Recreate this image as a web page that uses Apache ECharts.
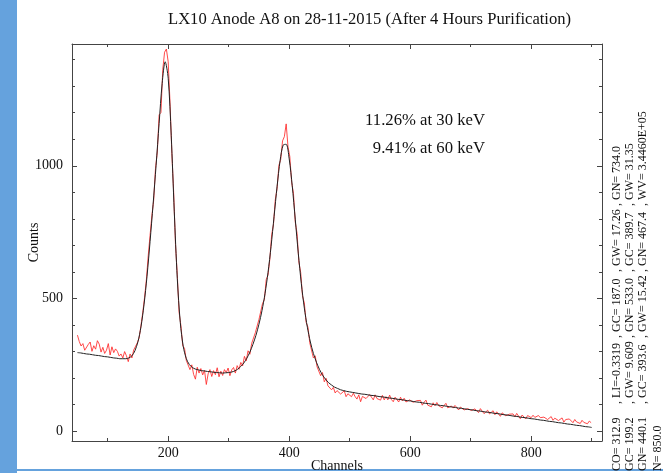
<!DOCTYPE html>
<html>
<head>
<meta charset="utf-8">
<title>LX10 Anode A8</title>
<script src="https://cdn.jsdelivr.net/npm/echarts@6/dist/echarts.min.js"></script>
<style>
  html, body { margin: 0; padding: 0; background: #fff; }
  #chart { width: 663px; height: 473px; }
</style>
</head>
<body>
<div id="chart"></div>
<script>
const FONT = '"Liberation Serif", "Times New Roman", serif';

// measured spectrum, one value every 3 channels from channel 50
const dataStart = 50;
const dataStep = 3;
const dataCounts = [
  362, 338, 321, 330, 305, 312, 327, 336, 301, 322,
  309, 341, 328, 298, 316, 293, 305, 330, 287, 318,
  296, 310, 301, 283, 291, 276, 300, 284, 262, 291,
  276, 306, 300, 333, 352, 398, 448, 505, 572, 661,
  738, 812, 869, 990, 1052, 1192, 1201, 1362, 1428, 1440,
  1392, 1240, 1048, 902, 706, 590, 448, 398, 322, 312,
  266, 271, 232, 250, 214, 196, 241, 219, 236, 212,
  229, 176, 216, 232, 206, 228, 213, 239, 205, 226,
  210, 232, 221, 238, 209, 231, 240, 219, 247, 233,
  259, 246, 282, 265, 303, 290, 331, 326, 371, 369,
  421, 428, 482, 496, 571, 589, 648, 740, 779, 872,
  915, 1002, 1024, 1094, 1110, 1158, 1072, 1035, 938, 897,
  788, 745, 637, 598, 509, 483, 410, 392, 333, 329,
  276, 284, 243, 249, 209, 221, 186, 199, 171, 168,
  156, 165, 144, 153, 157, 140, 141, 152, 130, 141,
  142, 130, 143, 130, 121, 137, 111, 131, 137, 123,
  126, 138, 128, 118, 137, 123, 128, 117, 135, 118,
  130, 118, 136, 119, 111, 128, 122, 110, 128, 114,
  124, 110, 104, 118, 123, 109, 102, 115, 108, 116,
  98, 109, 117, 98, 104, 92, 107, 96, 108, 96,
  103, 88, 97, 105, 88, 83, 95, 87, 97, 89,
  80, 91, 94, 80, 73, 85, 88, 78, 71, 84,
  79, 70, 85, 78, 66, 73, 79, 65, 67, 77,
  62, 73, 67, 56, 69, 73, 58, 51, 64, 59,
  65, 54, 67, 57, 47, 61, 55, 46, 59, 54,
  51, 60, 52, 45, 59, 51, 44, 53, 57, 44,
  47, 55, 41, 49, 55, 40, 43, 50, 34, 44,
  38, 46, 39, 32, 44, 35, 38, 29, 41, 33,
  36, 28, 38, 32
];

// fitted curve, one value every 5 channels from channel 50
const fitStart = 50;
const fitStep = 5;
const fitCounts = [
  296, 295, 293, 291, 290, 288, 286, 285, 283, 281,
  280, 278, 276, 275, 273, 273, 273, 276, 284, 303,
  337, 393, 476, 584, 714, 854, 1002, 1160, 1310, 1392,
  1330, 1115, 829, 576, 409, 318, 273, 251, 240, 234,
  231, 228, 227, 225, 224, 222, 221, 220, 219, 220,
  221, 223, 227, 234, 244, 257, 275, 298, 327, 361,
  403, 454, 518, 598, 696, 809, 923, 1020, 1078, 1081,
  1026, 925, 799, 671, 557, 464, 392, 336, 293, 260,
  233, 212, 196, 183, 174, 166, 161, 156, 153, 150,
  148, 146, 144, 142, 140, 139, 137, 135, 134, 132,
  130, 129, 127, 125, 124, 122, 120, 119, 117, 115,
  114, 112, 110, 109, 107, 105, 104, 102, 100, 99,
  97, 96, 94, 92, 91, 89, 87, 86, 84, 82,
  81, 79, 77, 76, 74, 72, 71, 69, 67, 66,
  64, 62, 61, 59, 57, 56, 54, 52, 51, 49,
  47, 46, 44, 42, 41, 39, 37, 36, 34, 32,
  31, 29, 27, 26, 24, 22, 21, 19, 17, 16,
  14
];

const xLabelValues = [200, 400, 600, 800];
const xMinorTicks = [100, 300, 500, 700, 900];
const yLabelValues = [0, 500, 1000];
const yMinorTicks = [100, 200, 300, 400, 600, 700, 800, 900, 1100, 1200, 1300, 1400];

const resolutionLines = ['11.26% at 30 keV', '9.41% at 60 keV'];
const fitParamLines = [
  ['CO= 312.9', ', LI=-0.3319', ', GC= 187.0', ', GW= 17.26', ', GN= 734.0'],
  ['GC= 199.2', ', GW= 9.609', ', GN= 533.0', ', GC= 389.7', ', GW= 31.35'],
  ['GN= 440.1', ', GC= 393.6', ', GW= 15.42', ', GN= 467.4', ', WV= 3.4460E+05'],
  ['N= 850.0']
];

const toPairs = (arr, start, step) => arr.map((v, i) => [start + i * step, v]);

const frameColor = '#444';
const xRange = { min: 41, max: 917 };
const yRange = { min: -37, max: 1459 };

// extra axes only draw frame lines and tick marks
function tickAxis(position, values, len, showLine) {
  return {
    type: 'value',
    position: position,
    ...(position === 'left' || position === 'right' ? yRange : xRange),
    axisLine: { show: showLine, onZero: false, lineStyle: { color: frameColor, width: 1 } },
    axisTick: { show: true, inside: true, length: len, customValues: values, lineStyle: { color: frameColor } },
    axisLabel: { show: false },
    splitLine: { show: false }
  };
}

const chart = echarts.init(document.getElementById('chart'), null, { renderer: 'canvas' });

const paramTexts = [];
const fieldY = [471, 404, 338, 272, 206];
const lineX = [617, 630, 643, 658];
fitParamLines.forEach((fields, li) => {
  fields.forEach((t, fi) => {
    paramTexts.push({
      type: 'text',
      x: lineX[li],
      y: fieldY[fi],
      rotation: Math.PI / 2,
      style: { text: t, font: '12px ' + FONT, fill: '#111', align: 'left', verticalAlign: 'middle' }
    });
  });
});

const option = {
  animation: false,
  title: {
    text: 'LX10 Anode A8 on 28-11-2015 (After 4 Hours Purification)',
    left: 168,
    top: 11,
    padding: 0,
    textStyle: { fontFamily: FONT, fontSize: 16.6, fontWeight: 'normal', color: '#111' }
  },
  grid: { left: 72, right: 61, top: 44, bottom: 32, outerBoundsMode: 'none', containLabel: false },
  xAxis: [
    {
      type: 'value',
      position: 'bottom',
      ...xRange,
      name: 'Channels',
      nameLocation: 'middle',
      nameGap: 18,
      nameMoveOverlap: false,
      nameTextStyle: { fontFamily: FONT, fontSize: 14, color: '#111', verticalAlign: 'top' },
      axisLine: { onZero: false, lineStyle: { color: frameColor, width: 1 } },
      axisTick: { inside: true, length: 5, customValues: xLabelValues, lineStyle: { color: frameColor } },
      axisLabel: { customValues: xLabelValues, margin: 5, fontFamily: FONT, fontSize: 14, color: '#111' },
      splitLine: { show: false }
    },
    tickAxis('bottom', xMinorTicks, 3, false),
    tickAxis('top', xLabelValues, 5, true),
    tickAxis('top', xMinorTicks, 3, false)
  ],
  yAxis: [
    {
      type: 'value',
      position: 'left',
      ...yRange,
      name: 'Counts',
      nameLocation: 'middle',
      nameGap: 31,
      nameRotate: 90,
      nameMoveOverlap: false,
      nameTextStyle: { fontFamily: FONT, fontSize: 14, color: '#111' },
      axisLine: { show: true, onZero: false, lineStyle: { color: frameColor, width: 1 } },
      axisTick: { show: true, inside: true, length: 5, customValues: yLabelValues, lineStyle: { color: frameColor } },
      axisLabel: {
        customValues: yLabelValues, margin: 9, fontFamily: FONT, fontSize: 14, color: '#111',
        formatter: v => String(v)
      },
      splitLine: { show: false }
    },
    tickAxis('left', yMinorTicks, 3, false),
    tickAxis('right', yLabelValues, 5, true),
    tickAxis('right', yMinorTicks, 3, false)
  ],
  series: [
    {
      name: 'data',
      type: 'line',
      data: toPairs(dataCounts, dataStart, dataStep),
      showSymbol: false,
      lineStyle: { color: '#ff2a2a', width: 1, opacity: 0.85 },
      z: 2
    },
    {
      name: 'fit',
      type: 'line',
      data: toPairs(fitCounts, fitStart, fitStep),
      smooth: 0.3,
      showSymbol: false,
      lineStyle: { color: '#222', width: 1 },
      z: 3
    }
  ],
  graphic: [
    { type: 'rect', shape: { x: 0, y: 0, width: 17, height: 473 }, style: { fill: '#65a2dd' } },
    { type: 'rect', shape: { x: 17, y: 469, width: 646, height: 2 }, style: { fill: '#65a2dd' } },
    {
      type: 'text', x: 485, y: 121,
      style: { text: resolutionLines[0], font: '16.7px ' + FONT, fill: '#111', align: 'right', verticalAlign: 'middle' }
    },
    {
      type: 'text', x: 485, y: 149,
      style: { text: resolutionLines[1], font: '16.7px ' + FONT, fill: '#111', align: 'right', verticalAlign: 'middle' }
    },
    ...paramTexts
  ]
};

chart.setOption(option);
</script>
</body>
</html>
